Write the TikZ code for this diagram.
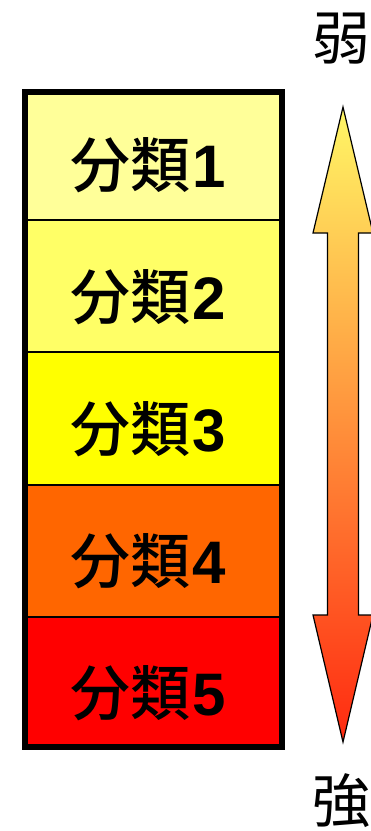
\documentclass[tikz,border=0pt]{standalone}
\usepackage{fontspec}
\newfontfamily\cjk{Noto Sans CJK JP}
\newfontfamily\cjkm{Noto Sans CJK JP Medium}
\newfontfamily\digits{Liberation Sans}
\newcommand{\lbl}[1]{\cjkm 分類\hspace{2pt}\digits\bfseries #1}
\begin{document}
\begin{tikzpicture}[x=1pt,y=1pt,
  cell/.style={draw=black,line width=1.5pt,minimum width=254pt,inner sep=0pt},
  lab/.style={font=\fontsize{60}{60}\selectfont,inner sep=0pt},
  side/.style={font=\cjk\fontsize{58}{58}\selectfont,inner sep=0pt}]
\useasboundingbox (0,0) rectangle (371,-831);
\definecolor{c1}{HTML}{FFFF99}
\definecolor{c2}{HTML}{FFFF66}
\definecolor{c3}{HTML}{FFFF00}
\definecolor{c4}{HTML}{FF6600}
\definecolor{c5}{HTML}{FF0000}
\definecolor{atop}{HTML}{FFF766}
\definecolor{amid}{HTML}{FDB64E}
\definecolor{abot}{HTML}{FF2A10}
\node[cell,fill=c1,minimum height=128pt] (k1) at (153.5,-156) {};
\node[cell,fill=c2,minimum height=132pt] (k2) at (153.5,-286) {};
\node[cell,fill=c3,minimum height=133pt] (k3) at (153.5,-418.5) {};
\node[cell,fill=c4,minimum height=132pt] (k4) at (153.5,-551) {};
\node[cell,fill=c5,minimum height=130pt] (k5) at (153.5,-682) {};
\node[lab] (t1) at (148,-165) {\lbl{1}};
\node[lab] (t2) at (148,-297) {\lbl{2}};
\node[lab] (t3) at (148,-429) {\lbl{3}};
\node[lab] (t4) at (148,-561) {\lbl{4}};
\node[lab] (t5) at (148,-693) {\lbl{5}};
\draw[line width=6pt] (25,-92) rectangle (282,-747);
\shade[top color=atop, middle color=amid, bottom color=abot, draw=black, line width=1.2pt]
  (343,-107) -- (373,-233) -- (358.5,-233) -- (358.5,-615) -- (373,-615) -- (343,-742)
  -- (313,-615) -- (327.5,-615) -- (327.5,-233) -- (313,-233) -- cycle;
\node[side] (weak) at (341,-39) {弱};
\node[side] (strong) at (341,-801) {強};
\end{tikzpicture}
\end{document}
